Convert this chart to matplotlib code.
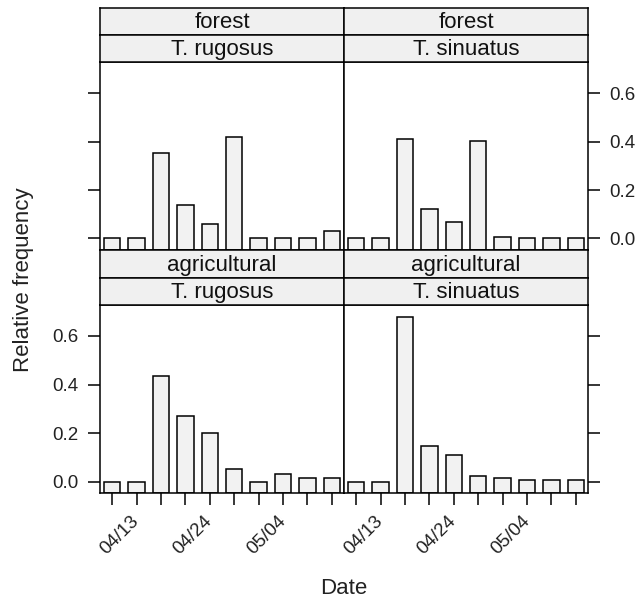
import numpy as np
import matplotlib.pyplot as plt

plt.rcParams['font.family'] = ['Liberation Sans', 'DejaVu Sans']

habitats = ['forest', 'agricultural']
species = ['T. rugosus', 'T. sinuatus']
date_pos = np.arange(1, 11)
date_labels = ['', '04/13', '', '', '04/24', '', '', '05/04', '', '']

# relative frequency per sampling date
forest_rugosus = [0.0, 0.0, 0.354, 0.138, 0.061, 0.418, 0.0, 0.0, 0.0, 0.032]
forest_sinuatus = [0.0, 0.0, 0.411, 0.120, 0.066, 0.401, 0.006, 0.0, 0.0, 0.0]
agri_rugosus = [0.0, 0.0, 0.437, 0.270, 0.201, 0.053, 0.0, 0.030, 0.014, 0.014]
agri_sinuatus = [0.0, 0.0, 0.680, 0.146, 0.109, 0.022, 0.017, 0.006, 0.006, 0.008]

panels = [[forest_rugosus, forest_sinuatus],
          [agri_rugosus, agri_sinuatus]]

W, H = 635, 601
fig = plt.figure(figsize=(W / 100, H / 100), dpi=100)

xs = [100, 344, 588]
# top of strips, bottom of strips, bottom of panel (pixels from top)
rows = [(7.5, 62.3, 250), (250, 305, 493.3)]
ymax = max(max(v) for r in panels for v in r)
ylim = (-0.07 * ymax, 1.07 * ymax)
strip_col = '#f0f0f0'
bar_col = '#f2f2f2'
lw = 1.1


def fig_box(x0, x1, ytop, ybot):
    return [x0 / W, 1 - ybot / H, (x1 - x0) / W, (ybot - ytop) / H]


for i, (stop, sbot, pbot) in enumerate(rows):
    for j in range(2):
        ax = fig.add_axes(fig_box(xs[j], xs[j + 1], sbot, pbot))
        vals = np.array(panels[i][j])
        ax.bar(date_pos, vals - ylim[0], bottom=ylim[0], width=2 / 3,
               color=bar_col, edgecolor='black', linewidth=lw)
        ax.set_xlim(0.5, 10.5)
        ax.set_ylim(*ylim)
        for s in ax.spines.values():
            s.set_linewidth(lw)
        ax.set_yticks([0.0, 0.2, 0.4, 0.6])
        ax.set_yticklabels(['0.0', '0.2', '0.4', '0.6'])
        ax.tick_params(axis='y', length=8.5, width=lw, labelsize=13.5,
                       pad=7, colors='black', labelcolor='#222222')
        show_left = j == 0
        show_right = j == 1
        ax.tick_params(axis='y', left=show_left, right=show_right,
                       labelleft=(i == 1 and j == 0),
                       labelright=(i == 0 and j == 1))
        if i == 1:
            ax.set_xticks(date_pos)
            ax.set_xticklabels(date_labels, rotation=45, ha='right',
                               va='center', rotation_mode='anchor')
            ax.tick_params(axis='x', length=8.5, width=lw, labelsize=13.5,
                           pad=10, labelcolor='#222222')
        else:
            ax.set_xticks([])

        # two stacked strips: habitat on top, species below
        sh = (sbot - stop) / 2
        for k, lab in enumerate([habitats[i], species[j]]):
            sax = fig.add_axes(fig_box(xs[j], xs[j + 1],
                                       stop + k * sh, stop + (k + 1) * sh))
            sax.set_facecolor(strip_col)
            sax.set_xticks([])
            sax.set_yticks([])
            for s in sax.spines.values():
                s.set_linewidth(lw)
            sax.text(0.5, 0.45, lab, ha='center', va='center', fontsize=16,
                     color='#111111', transform=sax.transAxes)

fig.text(24 / W, 1 - 280 / H, 'Relative frequency', rotation=90,
         ha='center', va='center', fontsize=16, color='#222222')
fig.text(344 / W, 1 - 588 / H, 'Date', ha='center', va='center',
         fontsize=16, color='#222222')

fig.savefig('out.png', dpi=100)
